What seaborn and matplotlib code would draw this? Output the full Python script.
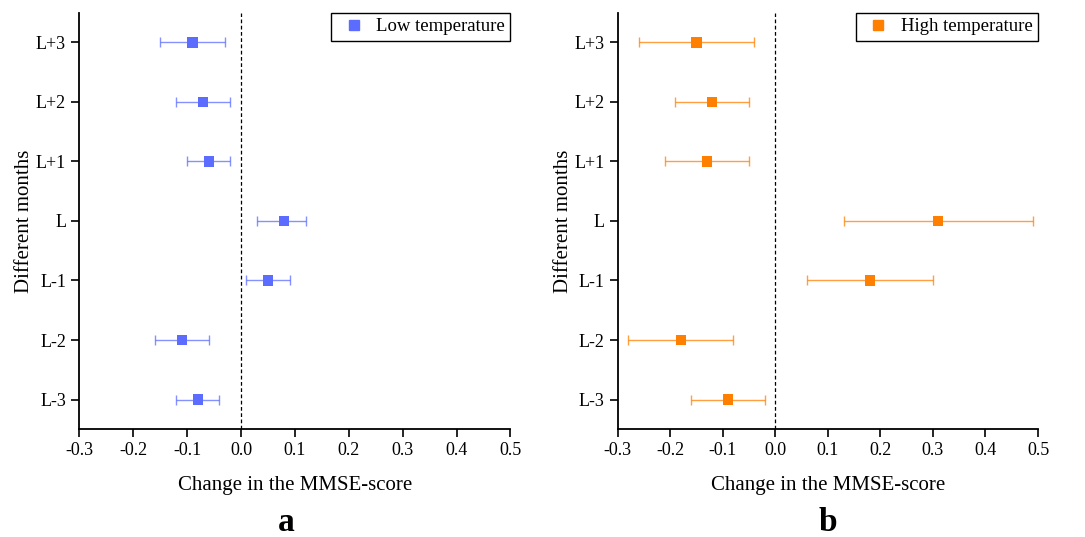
import numpy as np
import pandas as pd
import seaborn as sns
import matplotlib.pyplot as plt
from matplotlib.lines import Line2D

# months, bottom to top
months = ["L-3", "L-2", "L-1", "L", "L+1", "L+2", "L+3"]

low_est = [-0.08, -0.11, 0.05, 0.08, -0.06, -0.07, -0.09]
low_lo = [-0.12, -0.16, 0.01, 0.03, -0.10, -0.12, -0.15]
low_hi = [-0.04, -0.06, 0.09, 0.12, -0.02, -0.02, -0.03]

high_est = [-0.09, -0.18, 0.18, 0.31, -0.13, -0.12, -0.15]
high_lo = [-0.16, -0.28, 0.06, 0.13, -0.21, -0.19, -0.26]
high_hi = [-0.02, -0.08, 0.30, 0.49, -0.05, -0.05, -0.04]

xticks = [-0.3, -0.2, -0.1, 0.0, 0.1, 0.2, 0.3, 0.4, 0.5]

sns.set_style("ticks")
plt.rcParams['font.family'] = ['Liberation Serif', 'DejaVu Serif']
plt.rcParams['text.color'] = 'black'
plt.rcParams['axes.labelcolor'] = 'black'
plt.rcParams['xtick.color'] = 'black'
plt.rcParams['ytick.color'] = 'black'

fig = plt.figure(figsize=(10.85, 5.37), dpi=100)
ax1 = fig.add_axes([0.0731, 0.2006, 0.3974, 0.7758])
ax2 = fig.add_axes([0.5693, 0.2006, 0.3874, 0.7758])


def draw_panel(ax, est, lo, hi, color, label):
    df = pd.DataFrame({"month": months, "est": est, "lo": lo, "hi": hi})
    ypos = np.arange(len(months))
    err = [df["est"] - df["lo"], df["hi"] - df["est"]]
    ax.errorbar(df["est"], ypos, xerr=err, fmt="none", ecolor=color, elinewidth=1,
                capsize=3.5, capthick=1, alpha=0.75, zorder=2)
    sns.scatterplot(x=df["est"], y=ypos, marker="s", s=55, color=color,
                    edgecolor="none", ax=ax, zorder=3)
    ax.axvline(0, color="black", linestyle=(0, (3, 2)), linewidth=0.9, zorder=1)

    ax.set_xlim(-0.3, 0.5)
    ax.set_ylim(-0.5, 6.5)
    ax.set_xticks(xticks)
    ax.set_xticklabels([f"{t:.1f}" for t in xticks], fontsize=13)
    ax.set_yticks(ypos)
    ax.set_yticklabels(months, fontsize=13)
    ax.set_xlabel("Change in the MMSE-score", fontsize=15, labelpad=12)
    ax.set_ylabel("Different months", fontsize=15, labelpad=1)
    for s in ["top", "right"]:
        ax.spines[s].set_visible(False)
    for s in ["left", "bottom"]:
        ax.spines[s].set_linewidth(1.3)
        ax.spines[s].set_color("black")
    ax.tick_params(axis="both", direction="out", length=6, width=1.2, colors="black")

    handle = Line2D([], [], marker="s", color=color, linestyle="none", markersize=7)
    leg = ax.legend([handle], [label], loc="upper right", bbox_to_anchor=(1.0, 1.0),
                    fontsize=13.5, frameon=True, fancybox=False, framealpha=1,
                    edgecolor="black", borderpad=0.3, handletextpad=0.3,
                    handlelength=1.8, borderaxespad=0.0)
    leg.get_frame().set_linewidth(1.0)


draw_panel(ax1, low_est, low_lo, low_hi, "#5B6CFF", "Low temperature")
draw_panel(ax2, high_est, high_lo, high_hi, "#FF7F00", "High temperature")

fig.text(0.2636, 0.012, "a", ha="center", va="baseline", fontsize=24, fontweight="bold")
fig.text(0.763, 0.012, "b", ha="center", va="baseline", fontsize=24, fontweight="bold")

fig.savefig("out.png", dpi=100)
